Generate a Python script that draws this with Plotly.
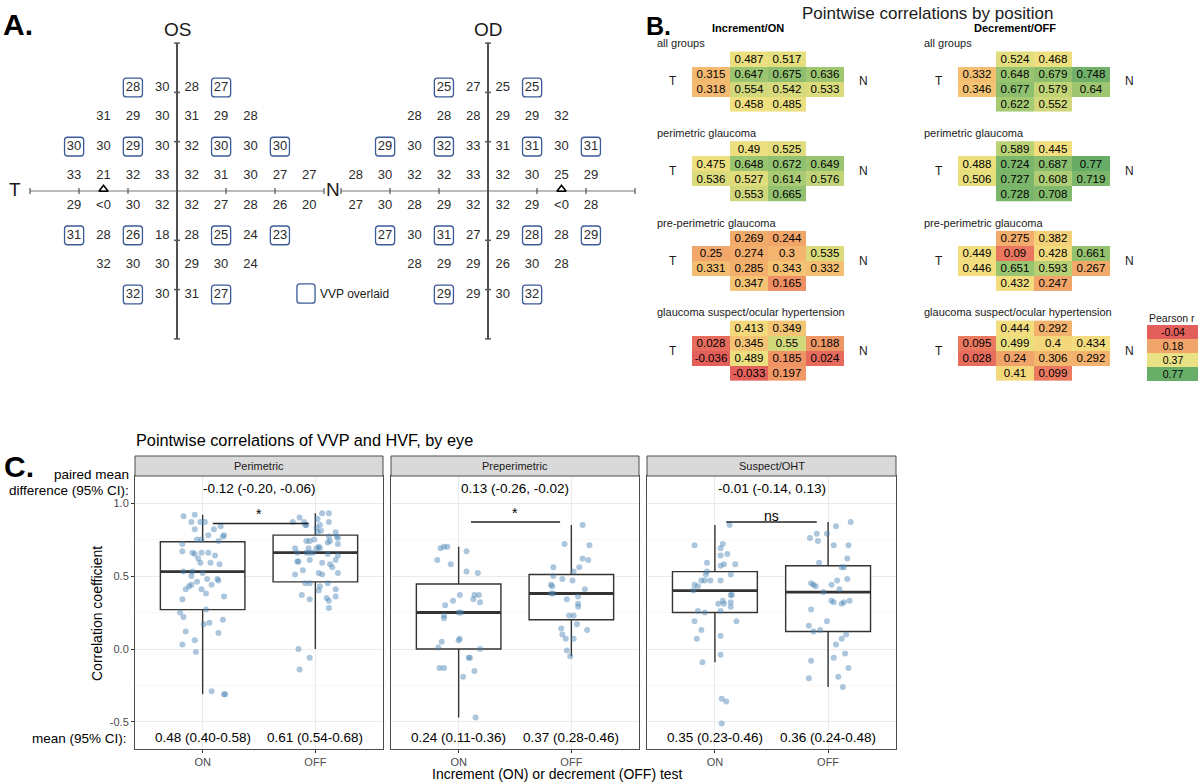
import plotly.graph_objects as go

W, H = 1200, 784
FONT = "Arial, Liberation Sans, Helvetica, sans-serif"


def PX(x):
    return x / W


def PY(y):
    return 1 - y / H


# ---------------- Panel A data (HVF sensitivities, dB) ----------------
os_rows = [
    ["28", "30", "28", "27"],
    ["31", "29", "30", "31", "29", "28"],
    ["30", "30", "29", "30", "32", "30", "30", "30"],
    ["33", "21", "32", "33", "32", "31", "30", "27", "27"],
    ["29", "<0", "30", "32", "32", "27", "28", "26", "20"],
    ["31", "28", "26", "18", "28", "25", "24", "23"],
    ["32", "30", "30", "29", "30", "24"],
    ["32", "30", "31", "27"],
]
od_rows = [
    ["25", "27", "25", "25"],
    ["28", "28", "28", "29", "29", "32"],
    ["29", "30", "32", "33", "31", "31", "30", "31"],
    ["28", "30", "32", "32", "33", "32", "30", "25", "29"],
    ["27", "30", "28", "29", "32", "32", "29", "<0", "28"],
    ["27", "30", "31", "27", "29", "28", "28", "29"],
    ["28", "29", "29", "26", "30", "28"],
    ["29", "29", "30", "32"],
]
row_y_deg = [21, 15, 9, 3, -3, -9, -15, -21]
os_row_start = [-9, -15, -21, -21, -21, -21, -15, -9]
od_row_start = [-9, -15, -21, -27, -27, -21, -15, -9]
vvp_locations = [(-9, 21), (9, 21), (-21, 9), (-9, 9), (9, 9), (21, 9),
                 (-21, -9), (-9, -9), (9, -9), (21, -9), (-9, -21), (9, -21)]
blind_spot_os = -15
blind_spot_od = 15
axis_ticks_deg = [-30, -20, -10, 10, 20, 30]

# ---------------- Panel B data (pointwise Pearson r) ----------------
group_names = ["all groups", "perimetric glaucoma", "pre-perimetric glaucoma",
               "glaucoma suspect/ocular hypertension"]
on_all = [[None, 0.487, 0.517, None], [0.315, 0.647, 0.675, 0.636],
          [0.318, 0.554, 0.542, 0.533], [None, 0.458, 0.485, None]]
on_perimetric = [[None, 0.49, 0.525, None], [0.475, 0.648, 0.672, 0.649],
                 [0.536, 0.527, 0.614, 0.576], [None, 0.553, 0.665, None]]
on_preperimetric = [[None, 0.269, 0.244, None], [0.25, 0.274, 0.3, 0.535],
                    [0.331, 0.285, 0.343, 0.332], [None, 0.347, 0.165, None]]
on_suspect = [[None, 0.413, 0.349, None], [0.028, 0.345, 0.55, 0.188],
              [-0.036, 0.489, 0.185, 0.024], [None, -0.033, 0.197, None]]
off_all = [[None, 0.524, 0.468, None], [0.332, 0.648, 0.679, 0.748],
           [0.346, 0.677, 0.579, 0.64], [None, 0.622, 0.552, None]]
off_perimetric = [[None, 0.589, 0.445, None], [0.488, 0.724, 0.687, 0.77],
                  [0.506, 0.727, 0.608, 0.719], [None, 0.728, 0.708, None]]
off_preperimetric = [[None, 0.275, 0.382, None], [0.449, 0.09, 0.428, 0.661],
                     [0.446, 0.651, 0.593, 0.267], [None, 0.432, 0.247, None]]
off_suspect = [[None, 0.444, 0.292, None], [0.095, 0.499, 0.4, 0.434],
               [0.028, 0.24, 0.306, 0.292], [None, 0.41, 0.099, None]]
on_groups = [on_all, on_perimetric, on_preperimetric, on_suspect]
off_groups = [off_all, off_perimetric, off_preperimetric, off_suspect]
legend_values = [-0.04, 0.18, 0.37, 0.77]

# ---------------- Panel C data ----------------
facet_names = ["Perimetric", "Preperimetric", "Suspect/OHT"]
test_labels = ["ON", "OFF"]
perim_on_y = [0.91, 0.92, 0.87, 0.87, 0.87, 0.82, 0.82, 0.84, 0.78, 0.78, 0.74, 0.77, 0.72, 0.75, 0.75,
              0.67, 0.66, 0.65, 0.62, 0.66, 0.66, 0.64, 0.59, 0.59, 0.58, 0.53, 0.53, 0.52, 0.50, 0.48,
              0.48, 0.46, 0.47, 0.44, 0.44, 0.43, 0.41, 0.41, 0.38, 0.36, 0.34, 0.27, 0.25, 0.22, 0.17,
              0.18, 0.20, 0.12, 0.11, 0.06, 0.03, -0.02, -0.29, -0.31, -0.31]
perim_on_dx = [-0.17, -0.07, -0.10, -0.02, 0.02, -0.07, 0.10, 0.16, 0.19, 0.05, 0.14, 0.18, -0.18, -0.05, -0.01,
               -0.18, -0.09, -0.07, -0.04, -0.01, 0.05, 0.11, -0.02, 0.07, 0.15, -0.17, -0.09, 0.00, -0.10, 0.04,
               0.13, -0.05, 0.14, 0.08, -0.10, -0.12, -0.15, -0.01, 0.03, 0.19, -0.18, 0.03, -0.20, -0.17, 0.01,
               0.06, 0.18, -0.15, 0.14, -0.07, -0.18, -0.06, 0.08, 0.19, 0.20]
perim_off_y = [0.90, 0.87, 0.87, 0.93, 0.93, 0.89, 0.87, 0.85, 0.85, 0.83, 0.85, 0.80, 0.81, 0.77, 0.80,
               0.77, 0.76, 0.75, 0.73, 0.74, 0.74, 0.74, 0.72, 0.69, 0.70, 0.69, 0.69, 0.69, 0.66, 0.66,
               0.66, 0.66, 0.65, 0.64, 0.60, 0.61, 0.60, 0.61, 0.59, 0.58, 0.56, 0.54, 0.51, 0.52, 0.51,
               0.52, 0.45, 0.45, 0.43, 0.40, 0.45, 0.41, 0.37, 0.34, 0.35, 0.36, 0.33, 0.28, 0.00, -0.06, -0.14]
perim_off_dx = [-0.14, -0.20, -0.10, 0.06, 0.12, 0.02, 0.12, 0.04, -0.09, 0.01, -0.08, 0.02, 0.05, 0.12, 0.18,
                0.19, 0.20, -0.01, 0.11, 0.13, -0.08, -0.05, 0.20, -0.18, 0.03, 0.01, -0.06, 0.04, -0.16, -0.08,
                -0.05, -0.02, 0.11, 0.20, -0.15, -0.05, -0.16, 0.18, 0.06, 0.13, 0.15, -0.11, -0.18, 0.03, 0.06,
                0.20, -0.09, -0.05, 0.04, 0.03, 0.11, 0.18, -0.12, -0.05, 0.10, 0.18, 0.12, 0.12, -0.15, -0.05, -0.14]
preperim_on_y = [0.69, 0.70, 0.70, 0.61, 0.58, 0.67, 0.53, 0.52, 0.37, 0.33, 0.30, 0.37, 0.37, 0.34, 0.32,
                 0.23, 0.21, 0.25, 0.25, 0.05, 0.01, 0.07, 0.06, -0.06, -0.06, 0.00, -0.13, -0.13, -0.19, -0.15, -0.47]
preperim_on_dx = [-0.16, -0.13, -0.10, -0.19, -0.07, 0.07, 0.07, 0.17, 0.01, -0.05, -0.12, 0.14, 0.18, 0.13, 0.19,
                  -0.13, -0.13, 0.02, 0.00, -0.15, -0.18, 0.01, 0.00, 0.09, 0.10, 0.19, -0.17, -0.13, 0.04, 0.14, 0.15]
preperim_off_y = [0.85, 0.72, 0.71, 0.62, 0.61, 0.56, 0.56, 0.53, 0.50, 0.48, 0.47, 0.44, 0.43, 0.38, 0.38,
                  0.41, 0.34, 0.36, 0.31, 0.29, 0.23, 0.23, 0.14, 0.17, 0.13, 0.10, 0.07, 0.07, -0.01, -0.05]
preperim_off_dx = [0.10, -0.06, 0.16, 0.10, 0.15, -0.16, 0.07, 0.02, -0.16, -0.08, 0.01, -0.18, -0.17, -0.18, -0.16,
                   0.12, -0.04, 0.06, 0.06, 0.06, -0.02, 0.02, -0.09, 0.05, 0.14, -0.08, -0.05, 0.02, -0.04, -0.01]
suspect_on_y = [0.85, 0.71, 0.72, 0.69, 0.64, 0.65, 0.59, 0.58, 0.57, 0.58, 0.53, 0.51, 0.47, 0.47, 0.47,
                0.47, 0.51, 0.44, 0.43, 0.40, 0.37, 0.37, 0.33, 0.31, 0.31, 0.32, 0.29, 0.26, 0.26, 0.25,
                0.19, 0.19, 0.13, 0.07, 0.09, -0.04, -0.09, -0.34, -0.36, -0.51]
suspect_on_dx = [0.13, -0.18, 0.07, 0.05, 0.05, 0.11, -0.07, 0.08, 0.05, 0.18, -0.07, -0.08, -0.12, -0.09, -0.04,
                 0.05, 0.14, -0.18, -0.15, -0.19, 0.15, 0.14, 0.07, 0.03, 0.08, 0.14, 0.14, 0.05, -0.15, -0.09,
                 0.19, -0.18, -0.12, -0.16, 0.05, 0.05, -0.11, 0.06, 0.10, 0.06]
suspect_off_y = [0.87, 0.84, 0.79, 0.79, 0.76, 0.74, 0.71, 0.71, 0.59, 0.62, 0.56, 0.56, 0.48, 0.47, 0.45,
                 0.44, 0.43, 0.44, 0.41, 0.39, 0.33, 0.32, 0.31, 0.32, 0.33, 0.27, 0.19, 0.16, 0.12, 0.13,
                 0.10, 0.07, 0.03, -0.03, -0.06, -0.13, -0.08, -0.20, -0.19, -0.26]
suspect_off_dx = [0.20, 0.07, -0.10, -0.01, -0.16, -0.09, 0.05, 0.18, -0.08, 0.17, 0.12, 0.14, 0.17, 0.08, -0.15,
                  -0.13, -0.11, 0.03, 0.10, -0.04, 0.03, 0.05, 0.12, 0.14, 0.19, -0.15, -0.01, -0.17, -0.13, -0.07,
                  0.16, 0.12, 0.07, 0.15, 0.05, 0.18, -0.15, -0.17, 0.09, 0.13]
points_y = [[perim_on_y, perim_off_y], [preperim_on_y, preperim_off_y], [suspect_on_y, suspect_off_y]]
points_dx = [[perim_on_dx, perim_off_dx], [preperim_on_dx, preperim_off_dx], [suspect_on_dx, suspect_off_dx]]
box_q1 = [[0.27, 0.46], [0.00, 0.20], [0.25, 0.12]]
box_median = [[0.53, 0.66], [0.25, 0.38], [0.40, 0.39]]
box_q3 = [[0.735, 0.78], [0.445, 0.51], [0.53, 0.57]]
box_low = [[-0.31, 0.00], [-0.47, -0.05], [-0.09, -0.26]]
box_high = [[0.92, 0.93], [0.70, 0.85], [0.85, 0.87]]
paired_diff = ["-0.12 (-0.20, -0.06)", "0.13 (-0.26, -0.02)", "-0.01 (-0.14, 0.13)"]
mean_ci = [["0.48 (0.40-0.58)", "0.61 (0.54-0.68)"], ["0.24 (0.11-0.36)", "0.37 (0.28-0.46)"],
           ["0.35 (0.23-0.46)", "0.36 (0.24-0.48)"]]
sig_label = ["*", "*", "ns"]
sig_span = [[1.09, 1.94], [1.11, 1.90], [1.10, 1.90]]
sig_y = [0.86, 0.87, 0.87]

# ---------------------------------------------------------------------
fig = go.Figure()
annotations = []
shapes = []


def add_text(text, x, y, size, xanchor="center", yanchor="middle", color="#1a1a1a",
             xref="paper", yref="paper", textangle=0, yshift=0):
    annotations.append(dict(text=text, x=x, y=y, xref=xref, yref=yref, xanchor=xanchor,
                            yanchor=yanchor, showarrow=False, textangle=textangle, yshift=yshift,
                            font=dict(size=size, color=color, family=FONT)))


def rounded_path(cx, cy, hw, hh, r):
    x0, x1, y0, y1 = cx - hw, cx + hw, cy - hh, cy + hh
    return (f"M {x0 + r},{y0} L {x1 - r},{y0} Q {x1},{y0} {x1},{y0 + r} L {x1},{y1 - r} "
            f"Q {x1},{y1} {x1 - r},{y1} L {x0 + r},{y1} Q {x0},{y1} {x0},{y1 - r} "
            f"L {x0},{y0 + r} Q {x0},{y0} {x0 + r},{y0} Z")


layout_axes = {}

# ---------------- Panel A ----------------
SX, SY = 4.9, 4.93
A_CY = 191
A_TOP, A_BOT = 20, 350
VVP_BLUE = "#3d5a98"
eyes = [
    ("x", "y", "xaxis", "yaxis", 0, 331, 177, os_rows, os_row_start, blind_spot_os),
    ("x2", "y2", "xaxis2", "yaxis2", 333, 650, 488, od_rows, od_row_start, blind_spot_od),
]
for xr, yr, xk, yk, px0, px1, cx, rows, starts, blind in eyes:
    layout_axes[xk] = dict(domain=[PX(px0), PX(px1)], range=[(px0 - cx) / SX, (px1 - cx) / SX],
                           visible=False, fixedrange=True)
    layout_axes[yk] = dict(domain=[PY(A_BOT), PY(A_TOP)], range=[(A_CY - A_BOT) / SY, (A_CY - A_TOP) / SY],
                           visible=False, fixedrange=True)
    fig.add_trace(go.Scatter(x=[-30, 30], y=[0, 0], mode="lines", line=dict(color="#7a7a7a", width=1.2),
                             xaxis=xr, yaxis=yr, hoverinfo="skip", showlegend=False))
    fig.add_trace(go.Scatter(x=[0, 0], y=[-30, 30], mode="lines", line=dict(color="#505050", width=2),
                             xaxis=xr, yaxis=yr, hoverinfo="skip", showlegend=False))
    hx, hy, vx, vy = [], [], [], []
    for t in axis_ticks_deg:
        hx += [t, t, None]
        hy += [-0.6, 0.6, None]
        vx += [-0.6, 0.6, None]
        vy += [t, t, None]
    fig.add_trace(go.Scatter(x=hx, y=hy, mode="lines", line=dict(color="#555", width=1.2),
                             xaxis=xr, yaxis=yr, hoverinfo="skip", showlegend=False))
    fig.add_trace(go.Scatter(x=vx, y=vy, mode="lines", line=dict(color="#555", width=1.5),
                             xaxis=xr, yaxis=yr, hoverinfo="skip", showlegend=False))
    tx, ty, tt = [], [], []
    for vals, y0, x0 in zip(rows, row_y_deg, starts):
        for i, v in enumerate(vals):
            tx.append(x0 + 6 * i)
            ty.append(y0)
            tt.append(v)
    fig.add_trace(go.Scatter(x=tx, y=ty, text=tt, mode="text", textposition="middle center",
                             textfont=dict(size=13, color="#2b2b2b", family=FONT),
                             xaxis=xr, yaxis=yr, hoverinfo="skip", showlegend=False))
    fig.add_trace(go.Scatter(x=[blind], y=[0.35], mode="markers",
                             marker=dict(symbol="triangle-up-open", size=8, color="black", line=dict(width=1.6)),
                             xaxis=xr, yaxis=yr, hoverinfo="skip", showlegend=False))
    for (bx, by) in vvp_locations:
        shapes.append(dict(type="path", path=rounded_path(bx, by, 1.95, 1.9, 0.6), xref=xr, yref=yr,
                           line=dict(color=VVP_BLUE, width=1.3), fillcolor="rgba(0,0,0,0)"))

# legend box "VVP overlaid" (in OS coordinates)
shapes.append(dict(type="path", xref="x", yref="y", line=dict(color=VVP_BLUE, width=1.3),
                   path=rounded_path((306 - 177) / SX, (A_CY - 293.5) / SY, 1.85, 1.95, 0.6)))

add_text("<b>A.</b>", PX(1), PY(24), 30, xanchor="left", color="black")
add_text("OS", PX(177), PY(30), 19)
add_text("OD", PX(488), PY(30), 19)
add_text("T", PX(15), PY(190), 19)
add_text("N", PX(333), PY(190), 19)
add_text("VVP overlaid", PX(318), PY(294), 12, xanchor="left")

# ---------------- Panel B ----------------
CW, RH = 38.0, 14.95
BX0, BY0 = 711, 59
layout_axes["xaxis3"] = dict(domain=[PX(640), PX(1200)], range=[(640 - BX0) / CW, (1200 - BX0) / CW],
                             visible=False, fixedrange=True)
layout_axes["yaxis3"] = dict(domain=[PY(400), PY(0)], range=[(400 - BY0) / RH, (0 - BY0) / RH],
                             visible=False, fixedrange=True)


def nval(v):
    return (v + 0.04) / 0.81


cell_scale = [[0, "#e35e5a"], [nval(0.10), "#ea7a60"], [nval(0.20), "#f09a66"], [nval(0.27), "#f2ab6b"],
              [nval(0.33), "#f4be72"], [nval(0.40), "#f4d77b"], [nval(0.46), "#f1e07f"], [nval(0.52), "#e4de7e"],
              [nval(0.56), "#ccd77a"], [nval(0.62), "#a6ca72"], [1, "#68ad67"]]


def txt(z):
    return [["" if v is None else str(v) for v in row] for row in z]


for g, (on_z, off_z) in enumerate(zip(on_groups, off_groups)):
    ys = [6 * g + k for k in range(4)]
    for z, xs in ((on_z, [0, 1, 2, 3]), (off_z, [7, 8, 9, 10])):
        fig.add_trace(go.Heatmap(z=z, x=xs, y=ys, text=txt(z), texttemplate="%{text}",
                                 textfont=dict(size=11.5, color="black", family=FONT),
                                 colorscale=cell_scale, zmin=-0.04, zmax=0.77, showscale=False,
                                 xgap=0, ygap=0, hoverinfo="skip", xaxis="x3", yaxis="y3"))
    add_text(group_names[g], -1.47, 6 * g - 1.05, 11, xanchor="left", xref="x3", yref="y3")
    add_text(group_names[g], 5.55, 6 * g - 1.05, 11, xanchor="left", xref="x3", yref="y3")
    for tx_, lab in ((-1.0, "T"), (4.0, "N"), (6.0, "T"), (11.0, "N")):
        add_text(lab, tx_, 6 * g + 1.5, 12, xref="x3", yref="y3")

legend_scale = [[0, "#e35f5c"], [nval(0.18), "#f1a56a"], [nval(0.37), "#e9e183"], [1, "#69ae68"]]
ly_edges = [(p - BY0) / RH for p in (325, 339, 353, 367, 381)]
fig.add_trace(go.Heatmap(z=[[v] for v in legend_values], x=[(1147 - BX0) / CW, (1198 - BX0) / CW],
                         y=ly_edges, text=[[str(v)] for v in legend_values], texttemplate="%{text}",
                         textfont=dict(size=10.5, color="black", family=FONT),
                         colorscale=legend_scale, zmin=-0.04, zmax=0.77, showscale=False,
                         hoverinfo="skip", xaxis="x3", yaxis="y3"))
add_text("Pearson r", PX(1147), PY(318), 10.5, xanchor="left")
add_text("<b>B.</b>", PX(644), PY(26), 25, xanchor="left", color="black")
add_text("Pointwise correlations by position", PX(927), PY(13), 17)
add_text("<b>Increment/ON</b>", PX(748), PY(28), 11, color="black")
add_text("<b>Decrement/OFF</b>", PX(1015), PY(28), 11, color="black")

# ---------------- Panel C ----------------
C_TOP, C_BOT = 476, 749
facet_px = [(135, 383), (391, 639), (647, 896)]
YR = [-0.685, 1.185]
BOXW = 0.75
for f, (p0, p1) in enumerate(facet_px):
    n = 4 + f
    xr, yr = f"x{n}", f"y{n}"
    layout_axes[f"xaxis{n}"] = dict(
        domain=[PX(p0), PX(p1)], range=[0.4, 2.6], tickvals=[1, 2], ticktext=test_labels,
        showgrid=True, gridcolor="#ebebeb", gridwidth=1, zeroline=False, showline=True, mirror=True,
        linecolor="#4d4d4d", linewidth=1, ticks="outside", ticklen=3, tickcolor="#333",
        tickfont=dict(size=11, color="#4d4d4d", family=FONT), fixedrange=True, anchor=yr)
    layout_axes[f"yaxis{n}"] = dict(
        domain=[PY(C_BOT), PY(C_TOP)], range=YR, tickvals=[-0.5, 0, 0.5, 1.0],
        ticktext=["-0.5", "0.0", "0.5", "1.0"], showticklabels=(f == 0),
        ticks="outside" if f == 0 else "", ticklen=3, tickcolor="#333",
        tickfont=dict(size=11, color="#4d4d4d", family=FONT),
        showgrid=True, gridcolor="#ebebeb", gridwidth=1, zeroline=False, showline=True, mirror=True,
        linecolor="#4d4d4d", linewidth=1, fixedrange=True, anchor=xr,
        minor=dict(tickvals=[-0.25, 0.25, 0.75], showgrid=True, gridcolor="#f2f2f2", gridwidth=0.6, ticks=""))
    for k in range(2):
        pos = k + 1
        fig.add_trace(go.Box(x=[pos], q1=[box_q1[f][k]], median=[box_median[f][k]], q3=[box_q3[f][k]],
                             lowerfence=[box_low[f][k]], upperfence=[box_high[f][k]], width=BOXW,
                             fillcolor="white", line=dict(color="#333333", width=1.4), whiskerwidth=0,
                             boxpoints=False, hoverinfo="skip", showlegend=False, xaxis=xr, yaxis=yr))
        fig.add_trace(go.Scatter(x=[pos - BOXW / 2, pos + BOXW / 2], y=[box_median[f][k]] * 2, mode="lines",
                                 line=dict(color="#333333", width=2.8), hoverinfo="skip",
                                 showlegend=False, xaxis=xr, yaxis=yr))
    for k in range(2):
        pos = k + 1
        fig.add_trace(go.Scatter(x=[pos + d for d in points_dx[f][k]], y=points_y[f][k], mode="markers",
                                 marker=dict(size=6, color="rgba(70,130,180,0.45)", line=dict(width=0)),
                                 hoverinfo="skip", showlegend=False, xaxis=xr, yaxis=yr))
    fig.add_trace(go.Scatter(x=sig_span[f], y=[sig_y[f]] * 2, mode="lines", line=dict(color="#222", width=1.4),
                             hoverinfo="skip", showlegend=False, xaxis=xr, yaxis=yr))
    if sig_label[f] == "ns":
        add_text("ns", 1.5, sig_y[f], 14, yanchor="bottom", xref=xr, yref=yr, yshift=-4, color="black")
    else:
        add_text("*", 1.5, sig_y[f], 14, yanchor="bottom", xref=xr, yref=yr, yshift=-1, color="black")
    add_text(paired_diff[f], 1.5, 1.10, 13.5, xref=xr, yref=yr, color="black")
    for k in range(2):
        add_text(mean_ci[f][k], k + 1, -0.607, 13.5, xref=xr, yref=yr, color="black")
    shapes.append(dict(type="rect", xref="paper", yref="paper", x0=PX(p0), x1=PX(p1), y0=PY(C_TOP), y1=PY(456),
                       fillcolor="#d9d9d9", line=dict(color="#4d4d4d", width=1)))
    add_text(facet_names[f], PX((p0 + p1) / 2), PY(466), 11, color="#1a1a1a")

add_text("<b>C.</b>", PX(2), PY(466), 30, xanchor="left", color="black")
add_text("Pointwise correlations of VVP and HVF, by eye", PX(134), PY(440), 16.3, xanchor="left", color="black")
add_text("paired mean", PX(131), PY(474), 13.5, xanchor="right", color="black")
add_text("difference (95% CI):", PX(131), PY(490), 13.5, xanchor="right", color="black")
add_text("mean (95% CI):", PX(129), PY(738), 13.5, xanchor="right", color="black")
add_text("Correlation coefficient", PX(97), PY(613), 14, textangle=-90, color="black")
add_text("Increment (ON) or decrement (OFF) test", PX(557), PY(774), 14, color="black")

fig.update_layout(
    width=W, height=H, margin=dict(l=0, r=0, t=0, b=0),
    paper_bgcolor="white", plot_bgcolor="white",
    font=dict(family=FONT, color="#1a1a1a"),
    showlegend=False, annotations=annotations, shapes=shapes, **layout_axes)

fig.write_html("out.html", config={"displayModeBar": False, "staticPlot": True})

# remove the browser's default page margin so the figure sits at the top-left corner
with open("out.html", "r", encoding="utf-8") as fh:
    html = fh.read()
html = html.replace("<head>", "<head><style>html,body{margin:0;padding:0;overflow:hidden;}</style>", 1)
with open("out.html", "w", encoding="utf-8") as fh:
    fh.write(html)
